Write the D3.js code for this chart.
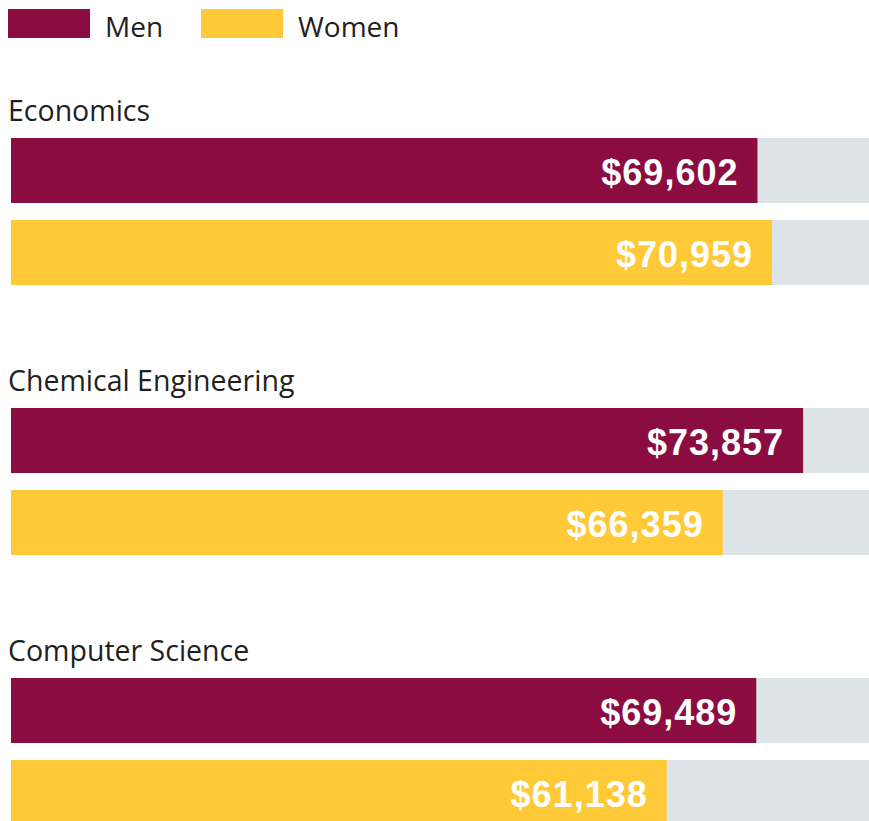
<!DOCTYPE html>
<html>
<head>
<meta charset="utf-8">
<script src="https://cdn.jsdelivr.net/npm/d3@7"></script>
<style>
  html, body { margin: 0; padding: 0; background: #fff; }
  svg { display: block; }
</style>
</head>
<body>
<svg id="chart" width="869" height="821"></svg>
<script>
// ---- data ----
const categories = ["Economics", "Chemical Engineering", "Computer Science"];
const seriesNames = ["Men", "Women"];
const menValues = [69602, 73857, 69489];
const womenValues = [70959, 66359, 61138];
const valueMax = 80000;

// ---- styles ----
const colors = { Men: "#8B0C41", Women: "#FFC938" };
const trackColor = "#DDE4E7";
const textColor = "#231F20";

const svg = d3.select("#chart");
const W = 869;

const x = d3.scaleLinear().domain([0, valueMax]).range([11, W]);
const yGroup = d3.scalePoint().domain(categories).range([138, 678]);
const ySeries = d3.scaleOrdinal().domain(seriesNames).range([0, 82]);
const barH = 65;

const fmt = v => "$" + d3.format(",")(v);

// legend
const legend = svg.append("g");
const legendX = d3.scaleOrdinal().domain(seriesNames).range([8, 201]);
seriesNames.forEach(s => {
  legend.append("rect")
    .attr("x", legendX(s)).attr("y", 9)
    .attr("width", 82).attr("height", 29)
    .attr("fill", colors[s]);
  legend.append("text")
    .attr("x", legendX(s) + 97).attr("y", 37)
    .attr("font-family", "'Open Sans', sans-serif")
    .attr("font-size", 28)
    .attr("fill", textColor)
    .text(s);
});

const rows = categories.map((c, i) => ({
  category: c,
  values: [
    { series: "Men", value: menValues[i] },
    { series: "Women", value: womenValues[i] }
  ]
}));

const groups = svg.selectAll("g.group")
  .data(rows)
  .join("g")
  .attr("class", "group")
  .attr("transform", d => `translate(0,${yGroup(d.category)})`);

groups.append("text")
  .attr("x", 8).attr("y", -17)
  .attr("font-family", "'Open Sans', sans-serif")
  .attr("font-size", 28.5)
  .attr("fill", textColor)
  .text(d => d.category);

const bars = groups.selectAll("g.bar")
  .data(d => d.values)
  .join("g")
  .attr("class", "bar")
  .attr("transform", d => `translate(0,${ySeries(d.series)})`);

bars.append("rect")
  .attr("x", x(0)).attr("y", 0)
  .attr("width", x(valueMax) - x(0)).attr("height", barH)
  .attr("fill", trackColor);

bars.append("rect")
  .attr("x", x(0)).attr("y", 0)
  .attr("width", d => x(d.value) - x(0)).attr("height", barH)
  .attr("fill", d => colors[d.series]);

bars.append("text")
  .attr("x", d => x(d.value) - 19)
  .attr("y", 47)
  .attr("text-anchor", "end")
  .attr("font-family", "'Liberation Sans', Arial, sans-serif")
  .attr("font-weight", "bold")
  .attr("font-size", 36)
  .attr("letter-spacing", 1)
  .attr("fill", "#fff")
  .text(d => fmt(d.value));
</script>
</body>
</html>
